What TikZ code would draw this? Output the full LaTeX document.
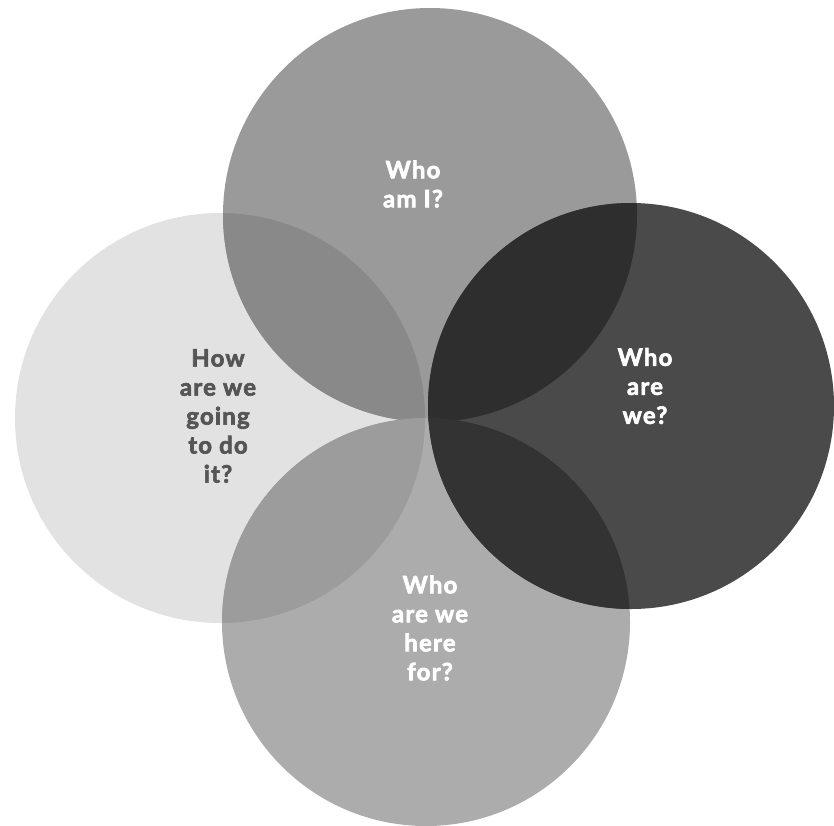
\documentclass[tikz,border=0pt]{standalone}
\usepackage{fontspec}
\setmainfont{Lato}
\newfontfamily\lblfont[LetterSpace=5,FakeBold=2.6]{Lato}
\begin{document}
\begin{tikzpicture}[x=1pt,y=-1pt,
  lbl/.style={align=center,font=\lblfont\fontsize{24}{29}\selectfont\bfseries},
  wlbl/.style={lbl,text=white},
  dlbl/.style={lbl,text=textdark}]
\definecolor{cleft}{HTML}{E2E2E2}
\definecolor{ctop}{HTML}{9A9A9A}
\definecolor{cright}{HTML}{4A4A4A}
\definecolor{cbottom}{HTML}{ACACAC}
\definecolor{ctl}{HTML}{898989}
\definecolor{ctr}{HTML}{2E2E2E}
\definecolor{crb}{HTML}{333333}
\definecolor{cbl}{HTML}{9C9C9C}
\definecolor{textdark}{HTML}{555555}
\useasboundingbox (0,0) rectangle (834,825);
\def\Lc{(220,418) circle[radius=205]}
\def\Tc{(430,215) circle[radius=207]}
\def\Rc{(631,406) circle[radius=203]}
\def\Bc{(426,622) circle[radius=204]}
\fill[cleft] \Lc;
\fill[ctop] \Tc;
\fill[cbottom] \Bc;
\fill[cright] \Rc;
\begin{scope}\clip \Tc; \fill[ctl] \Lc; \end{scope}
\begin{scope}\clip \Bc; \fill[cbl] \Lc; \end{scope}
\begin{scope}\clip \Tc; \fill[ctr] \Rc; \end{scope}
\begin{scope}\clip \Bc; \fill[crb] \Rc; \end{scope}
\node[wlbl] (top) at (413,184) {Who\\am I?};
\node[wlbl] (right) at (645,386) {Who\\are\\we?};
\node[dlbl] (left) at (218,416) {How\\are we\\going\\to do\\it?};
\node[wlbl] (bottom) at (430,628) {Who\\are we\\here\\for?};
\end{tikzpicture}
\end{document}
